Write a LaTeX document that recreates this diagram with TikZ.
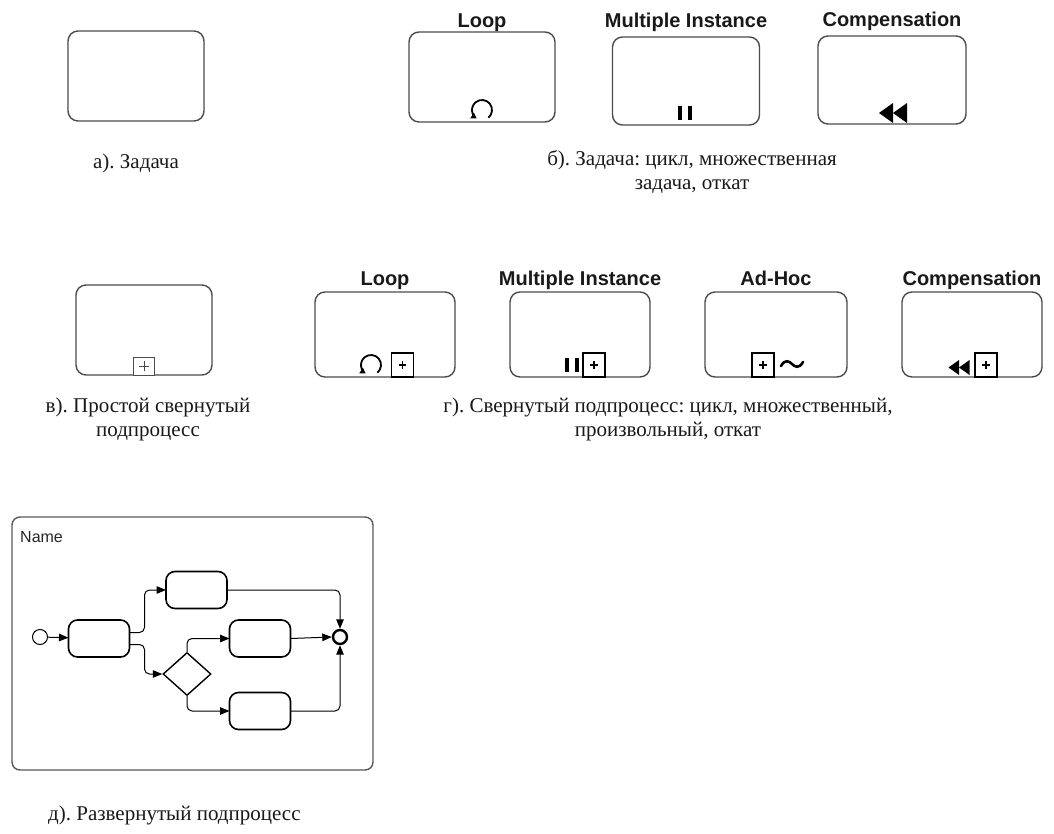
\documentclass[tikz,border=0pt]{standalone}
\usepackage{fontspec}
\setmainfont{Liberation Serif}
\newfontfamily\sansfont{Liberation Sans}
\usetikzlibrary{arrows.meta,shapes.geometric,calc}
\frenchspacing

\tikzset{
  taskbox/.style={draw=black!70, line width=1.4pt, rounded corners=10pt,
    inner sep=0pt, outer sep=0pt},
  innertask/.style={draw=black, line width=1.6pt, rounded corners=9pt,
    inner sep=0pt, outer sep=0pt, minimum width=61pt, minimum height=37pt},
  headlabel/.style={font=\sansfont\bfseries\fontsize{20}{24}\selectfont,
    text=black!90, anchor=base, inner sep=0pt},
  caption/.style={font=\fontsize{21}{24}\selectfont, text=black!90,
    align=center, inner sep=0pt},
  flow/.style={line width=1pt, rounded corners=5pt,
    -{Triangle[length=9.5pt,width=7.5pt]}},
  % BPMN activity markers
  pics/loopmark/.style={code={
    \draw[line width=1.8pt, -{Triangle[length=5.5pt,width=6.5pt]}]
      (-50:10) arc (-50:238:10);}},
  pics/mimark/.style={code={
    \fill (-7,-7) rectangle (-2.6,7);
    \fill (2.6,-7) rectangle (7,7);}},
  pics/compmark/.style={code={
    \fill (-14,0) -- (0,10) -- (0,-10) -- cycle;
    \fill (0,0) -- (14,10) -- (14,-10) -- cycle;}},
  pics/plusbox/.style={code={
    \draw[line width=1.1pt, fill=white] (-11,0) rectangle (11,24);
    \draw[line width=1.5pt] (-3.8,12) -- (3.8,12) (0,8.2) -- (0,15.8);}},
  pics/thinplus/.style={code={
    \draw[line width=0.9pt, draw=black!70, fill=white] (-10.5,0) rectangle (10.5,18);
    \draw[line width=0.8pt, draw=black!70] (-5,9) -- (5,9) (0,4) -- (0,14);}},
  pics/adhocmark/.style={code={
    \draw[line width=2.6pt, line cap=round]
      (-11,-2) .. controls (-7,5) and (-3,3) .. (0,0)
      .. controls (3,-3) and (7,-5) .. (11,2);}},
}

\begin{document}
\begin{tikzpicture}[x=1pt,y=1pt]
\fill[white] (0,0) rectangle (1054,-834);
\useasboundingbox (0,0) rectangle (1054,-834);

% ---- row 1: tasks ----
\node[taskbox, minimum width=136pt, minimum height=90pt] (ta) at (136,-76) {};
\node[taskbox, minimum width=146pt, minimum height=90pt] (tl) at (482,-77) {};
\node[taskbox, minimum width=147pt, minimum height=88pt] (tm) at (686,-81) {};
\node[taskbox, minimum width=148pt, minimum height=88pt] (tc) at (892,-80) {};

\node[headlabel] (tlL) at (482,-28) {Loop};
\node[headlabel] (tmL) at (686,-28) {Multiple Instance};
\node[headlabel] (tcL) at (892,-27) {Compensation};

\pic at (482,-110) {loopmark};
\pic at (685,-113.5) {mimark};
\pic at (893,-113) {compmark};

\node[caption] (capA) at (136,-163) {а). Задача};
\node[caption] (capB) at (692,-172) {б). Задача: цикл, множественная\\задача, откат};

% ---- row 2: collapsed sub-processes ----
\node[taskbox, minimum width=136pt, minimum height=90pt] (sa) at (144,-330) {};
\node[taskbox, minimum width=140pt, minimum height=85pt] (sl) at (385,-334.5) {};
\node[taskbox, minimum width=140pt, minimum height=85pt] (sm) at (580,-334.5) {};
\node[taskbox, minimum width=142pt, minimum height=85pt] (sh) at (776,-334.5) {};
\node[taskbox, minimum width=140pt, minimum height=85pt] (sc) at (972,-334.5) {};

\node[headlabel] (slL) at (385,-285) {Loop};
\node[headlabel] (smL) at (580,-285) {Multiple Instance};
\node[headlabel] (shL) at (776,-285) {Ad-Hoc};
\node[headlabel] (scL) at (972,-285) {Compensation};

\pic at (sa.south) {thinplus};

\pic at (371,-365) {loopmark};
\pic at (402.5,-377) {plusbox};

\pic at (572,-365) {mimark};
\pic at (594,-377) {plusbox};

\pic at (763,-377) {plusbox};
\pic at (792,-364) {adhocmark};

\pic[scale=0.75] at (959,-367.5) {compmark};
\pic at (986,-377) {plusbox};

\node[caption] (capC) at (148,-419) {в). Простой свернутый\\подпроцесс};
\node[caption] (capD) at (668,-419) {г). Свернутый подпроцесс: цикл, множественный,\\произвольный, откат};

% ---- row 3: expanded sub-process ----
\draw[draw=black!65, line width=1.4pt, rounded corners=8pt]
  (12,-517) rectangle (373,-770);
\node[font=\sansfont\fontsize{16}{19}\selectfont, text=black!85,
  anchor=base west, inner sep=0pt] (nm) at (20,-542) {Name};

\node[circle, draw=black, line width=1pt, minimum size=15pt, inner sep=0pt] (st) at (40,-637) {};
\node[innertask] (t1) at (99,-638.5) {};
\node[innertask] (t2) at (196.5,-590) {};
\node[innertask] (t3) at (260,-638.5) {};
\node[innertask] (t4) at (260,-711) {};
\node[diamond, draw=black, line width=1.4pt, minimum width=48pt, minimum height=43pt,
  inner sep=0pt] (gw) at (187,-674) {};
\node[circle, draw=black, line width=2.4pt, minimum size=14pt, inner sep=0pt] (en) at (340,-637) {};

\draw[flow] (st) -- (t1);
\draw[flow] ($(t1.east)+(0,6)$) -- ++(15,0) |- (t2.west);
\draw[flow] ($(t1.east)+(0,-6)$) -- ++(15,0) |- (gw.west);
\draw[flow] (gw.north) |- (t3.west);
\draw[flow] (gw.south) |- (t4.west);
\draw[flow] (t2.east) -| (en.north);
\draw[flow] (t3.east) -- (en.west);
\draw[flow] (t4.east) -| (en.south);

\node[caption, anchor=west] (capE) at (48,-815) {д). Развернутый подпроцесс};
\end{tikzpicture}
\end{document}
